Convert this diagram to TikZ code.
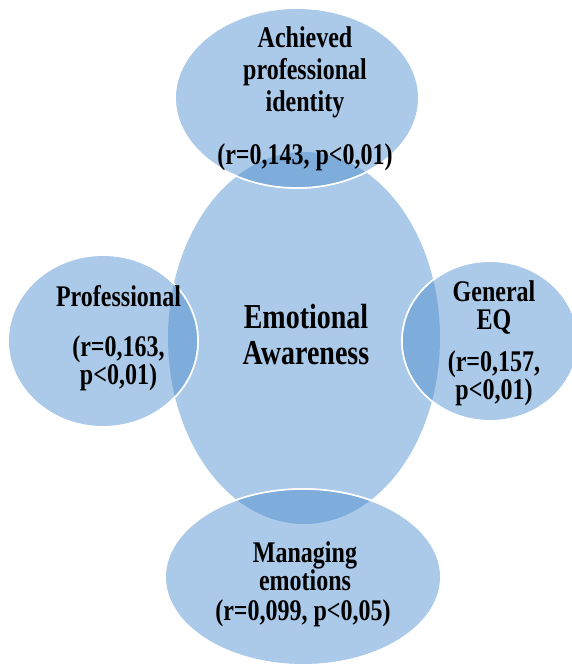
\documentclass[tikz,border=0pt]{standalone}
\usepackage{fontspec}
\setmainfont{Liberation Serif}[FakeStretch=0.8]
\usetikzlibrary{shapes.geometric}
\definecolor{lightb}{RGB}{171,202,233}
\definecolor{darkb}{RGB}{126,172,219}
\tikzset{
  blob/.style={ellipse, fill=lightb, draw=white, line width=1.6pt, inner sep=0pt},
  lbl/.style={anchor=base, inner sep=0pt, font=\bfseries\fontsize{30}{32}\selectfont},
  big/.style={anchor=base, inner sep=0pt, font=\bfseries\fontsize{35}{38}\selectfont}
}
\begin{document}
\begin{tikzpicture}[x=1pt,y=1pt]
\useasboundingbox (0,0) rectangle (572,672);
\clip (0,0) rectangle (572,672);
% central ellipse
\node[ellipse, fill=lightb, inner sep=0pt, minimum width=272pt, minimum height=372pt] (emo) at (304,334) {};
% satellites
\node[blob, minimum width=244pt, minimum height=180pt] (ach) at (297,574) {};
\node[blob, minimum width=190pt, minimum height=172pt] (pro) at (103,331) {};
\node[blob, minimum width=176pt, minimum height=160pt] (geq) at (490,331) {};
\node[blob, minimum width=276pt, minimum height=176pt] (man) at (303,95) {};
% overlaps
\begin{scope}
  \clip (304,334) ellipse [x radius=136, y radius=186];
  \fill[darkb] (297,574) ellipse [x radius=122, y radius=90];
  \fill[darkb] (103,331) ellipse [x radius=95, y radius=86];
  \fill[darkb] (490,331) ellipse [x radius=88, y radius=80];
  \fill[darkb] (303,95) ellipse [x radius=138, y radius=88];
\end{scope}
\draw[white, line width=1.6pt] (297,574) ellipse [x radius=122, y radius=90];
\draw[white, line width=1.6pt] (103,331) ellipse [x radius=95, y radius=86];
\draw[white, line width=1.6pt] (490,331) ellipse [x radius=88, y radius=80];
\draw[white, line width=1.6pt] (303,95) ellipse [x radius=138, y radius=88];
% texts
\node[big] (e1) at (306,343) {Emotional};
\node[big] (e2) at (306,307) {Awareness};
\node[lbl] (a1) at (305,624) {Achieved};
\node[lbl] (a2) at (305,592) {professional};
\node[lbl] (a3) at (305,560) {identity};
\node[lbl] (a4) at (305,507) {(r=0,143, p<0,01)};
\node[lbl] (p1) at (118.5,365) {Professional};
\node[lbl] (p2) at (118.5,315) {(r=0,163,};
\node[lbl] (p3) at (118.5,287) {p<0,01)};
\node[lbl] (g1) at (494,370) {General};
\node[lbl] (g2) at (494,342) {EQ};
\node[lbl] (g3) at (494,300) {(r=0,157,};
\node[lbl] (g4) at (494,272) {p<0,01)};
\node[lbl] (m1) at (305,109) {Managing};
\node[lbl] (m2) at (305,81) {emotions};
\node[lbl] (m3) at (303,51) {(r=0,099, p<0,05)};
\end{tikzpicture}
\end{document}
